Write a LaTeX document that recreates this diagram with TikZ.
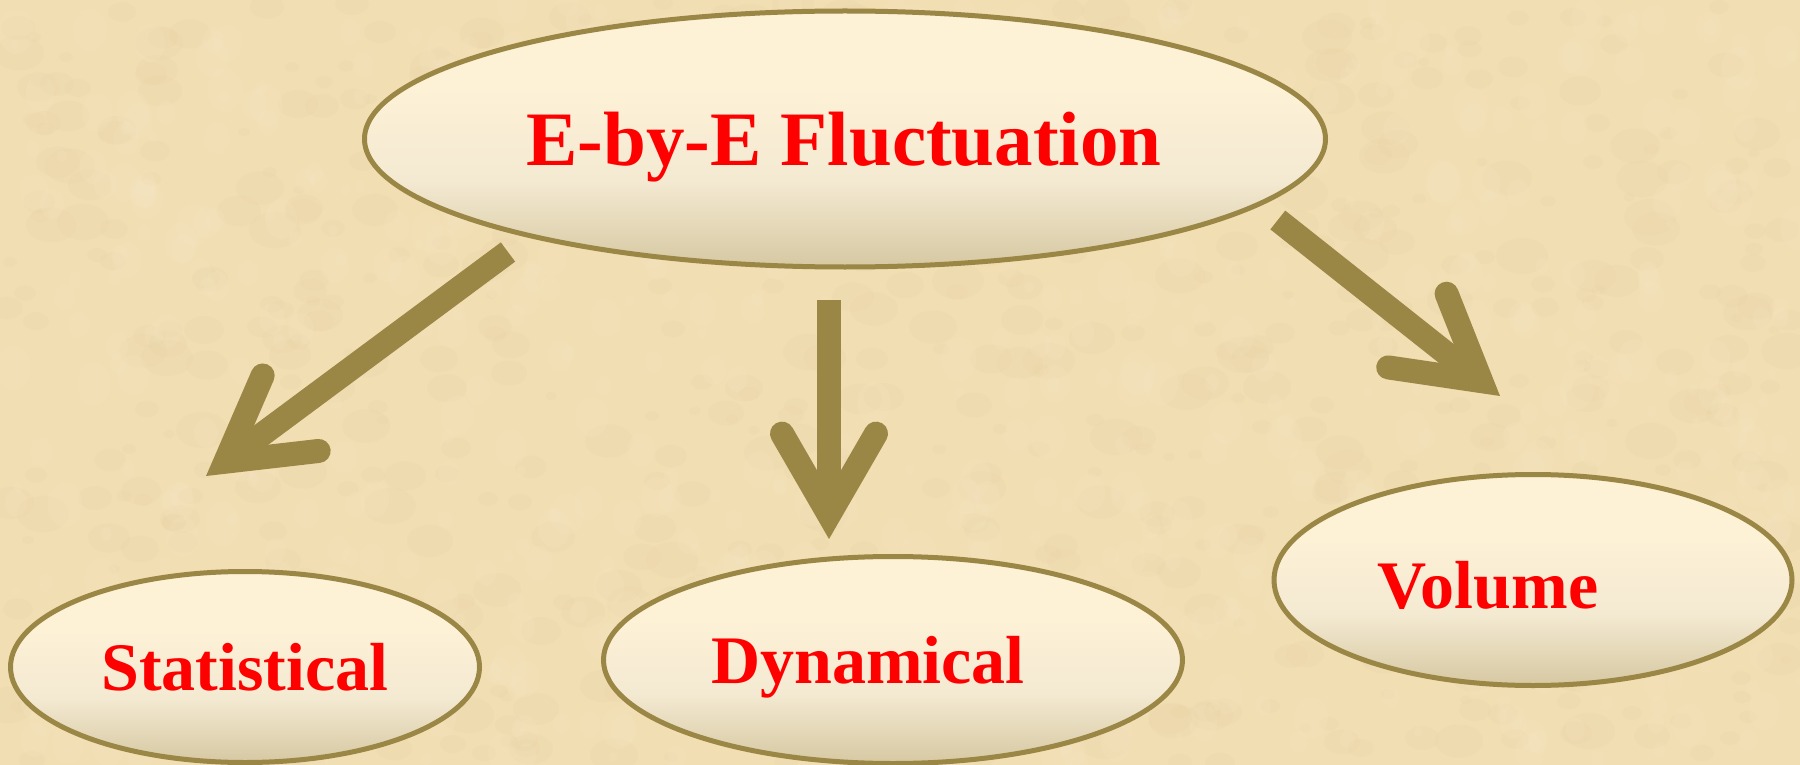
\documentclass[tikz,border=0pt]{standalone}
\usepackage{fontspec}
\setmainfont{Liberation Serif}
\usetikzlibrary{shapes.geometric,calc}
\definecolor{bgbase}{HTML}{F1DEB3}
\definecolor{bgdark}{HTML}{D9BF8A}
\definecolor{bglight}{HTML}{FBF0D6}
\definecolor{olive}{HTML}{9A8645}
\definecolor{etop}{HTML}{FDF1D6}
\definecolor{emid}{HTML}{F4EAD2}
\definecolor{ebot}{HTML}{D6C8A2}
\pgfdeclareverticalshading{ellfill}{100bp}{color(0bp)=(ebot); color(25bp)=(ebot); color(42bp)=(emid); color(60bp)=(etop); color(75bp)=(etop); color(100bp)=(etop)}
\tikzset{
  ell/.style={ellipse, draw=olive, line width=5pt, shading=ellfill, inner sep=0pt},
  lbl/.style={text=red, font=\bfseries\fontsize{68}{72}\selectfont, anchor=base, inner sep=0pt},
  ttl/.style={text=red, font=\bfseries\fontsize{77}{80}\selectfont, anchor=base, inner sep=0pt},
  shaft/.style={draw=olive, line width=24pt, line cap=butt},
  head/.style={draw=olive, line width=24pt, line cap=round, line join=miter}
}
\begin{document}
\begin{tikzpicture}[x=1pt,y=-1pt]
\useasboundingbox (0,0) rectangle (1800,765);
\clip (0,0) rectangle (1800,765);
% parchment background
\fill[bgbase] (0,0) rectangle (1800,765);
\pgfmathsetseed{11}
\foreach \i in {1,...,700}{
  \pgfmathsetmacro\xx{random(0,1800)}
  \pgfmathsetmacro\yy{random(0,765)}
  \pgfmathsetmacro\rr{random(6,26)}
  \fill[bgdark, opacity=0.07] (\xx,\yy) ellipse ({\rr pt} and {0.7*\rr pt});
}
\foreach \i in {1,...,700}{
  \pgfmathsetmacro\xx{random(0,1800)}
  \pgfmathsetmacro\yy{random(0,765)}
  \pgfmathsetmacro\rr{random(5,22)}
  \fill[bglight, opacity=0.10] (\xx,\yy) ellipse ({0.8*\rr pt} and {\rr pt});
}
% ellipses
\node[ell, minimum width=961pt, minimum height=256pt] (main) at (845,139) {};
\node[ell, minimum width=469pt, minimum height=191pt] (stat) at (245,667) {};
\node[ell, minimum width=579pt, minimum height=207pt] (dyn) at (893,660) {};
\node[ell, minimum width=518pt, minimum height=211pt] (vol) at (1533,580) {};
% texts
\node[ttl] (tmain) at (844,166) {E-by-E Fluctuation};
\node[lbl] (tstat) at (245,690) {Statistical};
\node[lbl] (tdyn) at (868,683) {Dynamical};
\node[lbl] (tvol) at (1488,608) {Volume};
% arrows
\coordinate (la) at (508,252);
\coordinate (lv) at (225.3,461.7);
\coordinate (ma) at (829,300);
\coordinate (mv) at (829,515);
\coordinate (ra) at (1277.8,220);
\coordinate (rv) at (1481.2,381.1);
\draw[shaft] (la) -- (lv);
\draw[head] ($(lv)!94pt!30:(la)$) -- (lv) -- ($(lv)!94pt!-30:(la)$);
\draw[shaft] (ma) -- (mv);
\draw[head] ($(mv)!94pt!30:(ma)$) -- (mv) -- ($(mv)!94pt!-30:(ma)$);
\draw[shaft] (ra) -- (rv);
\draw[head] ($(rv)!94pt!30:(ra)$) -- (rv) -- ($(rv)!94pt!-30:(ra)$);
\end{tikzpicture}
\end{document}
